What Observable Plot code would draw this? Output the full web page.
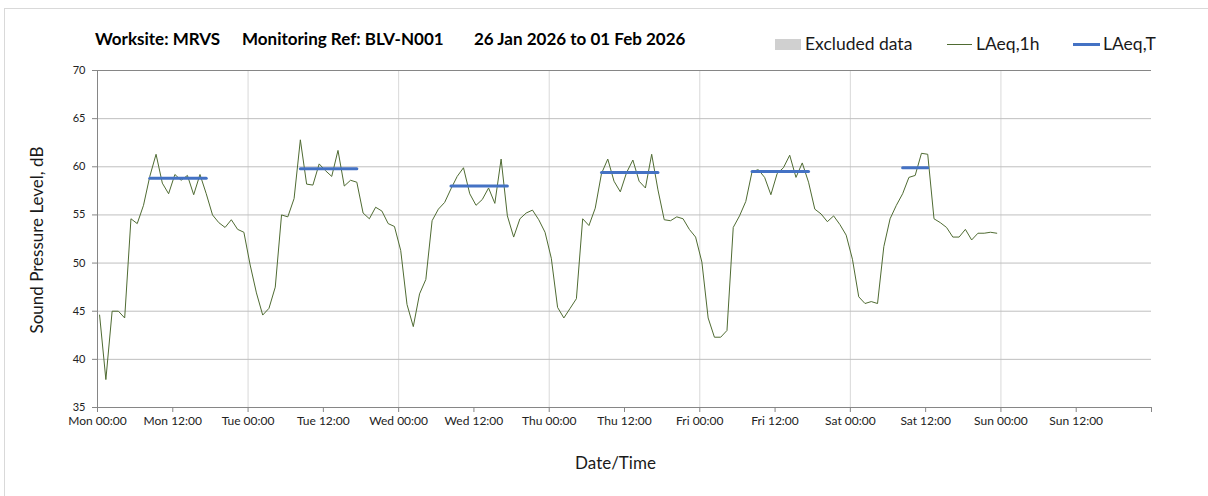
<!DOCTYPE html>
<html>
<head>
<meta charset="utf-8">
<script src="https://cdn.jsdelivr.net/npm/d3@7"></script>
<script src="https://cdn.jsdelivr.net/npm/@observablehq/plot@0.6"></script>
<style>
  html, body { margin: 0; padding: 0; background: #fff; }
  body { font-family: Lato, "Open Sans", sans-serif; }
  #wrap { position: relative; width: 1208px; height: 496px; overflow: hidden; background: #fff; }
  #border { position: absolute; left: 4px; top: 8px; width: 1300px; height: 600px; border: 1px solid #d9d9d9; }
  .title { position: absolute; top: 28px; font-weight: bold; font-size: 17px; white-space: pre; color: #000; }
  .leg { position: absolute; font-size: 17.5px; color: #1a1a1a; white-space: pre; top: 33px; }
  .sw { position: absolute; }
  #chart { position: absolute; left: 0; top: 0; }
</style>
</head>
<body>
<div id="wrap">
  <div id="border"></div>
  <div id="chart"></div>
  <div class="title" style="left:95px">Worksite: MRVS</div>
  <div class="title" style="left:242px">Monitoring Ref: BLV-N001</div>
  <div class="title" style="left:474px">26 Jan 2026 to 01 Feb 2026</div>
  <div class="sw" style="left:775px;top:39px;width:26px;height:11px;background:#d0d0d0"></div>
  <div class="leg" style="left:805px">Excluded data</div>
  <div class="sw" style="left:947px;top:44px;width:25px;height:1px;background:#4f6b32"></div>
  <div class="leg" style="left:976px">LAeq,1h</div>
  <div class="sw" style="left:1073px;top:43px;width:27px;height:3px;background:#4472c4"></div>
  <div class="leg" style="left:1103px">LAeq,T</div>
</div>
<script>
// ---- Data ----
const startTime = "2026-01-26T00:00:00Z";   // Monday
const endTime = "2026-02-02T00:00:00Z";
const sampleOffsetMinutes = 20;             // hourly samples plotted slightly after the hour

// LAeq,1h hourly values, Mon 00h .. Sat 23h
const laeq1h = [
  44.6, 37.9, 45.0, 45.0, 44.3, 54.6, 54.1, 56.0, 59.0, 61.3, 58.3, 57.2, 59.2, 58.6, 59.1, 57.1, 59.2, 57.2, 55.0, 54.2, 53.7, 54.5, 53.5, 53.2,
  49.8, 46.9, 44.6, 45.3, 47.5, 55.0, 54.8, 56.7, 62.8, 58.2, 58.1, 60.3, 59.6, 59.0, 61.7, 58.0, 58.6, 58.4, 55.2, 54.6, 55.8, 55.4, 54.1, 53.8,
  51.3, 45.7, 43.4, 46.8, 48.3, 54.4, 55.6, 56.3, 57.7, 59.0, 59.9, 57.2, 56.0, 56.6, 57.8, 56.2, 60.8, 54.9, 52.7, 54.6, 55.2, 55.5, 54.5, 53.2,
  50.5, 45.4, 44.3, 45.3, 46.3, 54.6, 53.9, 55.7, 59.3, 60.8, 58.5, 57.4, 59.4, 60.7, 58.5, 57.8, 61.3, 57.6, 54.5, 54.4, 54.8, 54.6, 53.5, 52.7,
  50.1, 44.3, 42.3, 42.3, 43.0, 53.7, 54.9, 56.4, 59.5, 59.7, 58.9, 57.1, 59.3, 59.9, 61.2, 58.9, 60.4, 58.4, 55.6, 55.1, 54.3, 54.9, 54.0, 52.9,
  50.4, 46.5, 45.8, 46.0, 45.8, 51.7, 54.6, 56.0, 57.2, 58.9, 59.1, 61.4, 61.3, 54.6, 54.2, 53.7, 52.7, 52.7, 53.5, 52.4, 53.1, 53.1, 53.2, 53.1
];

// LAeq,T per day (working period)
const laeqT = [58.8, 59.8, 58.0, 59.4, 59.5, 59.9];
const periodStartHour = [8, 8, 8, 8, 8, 8];
const periodEndHour = [17, 17, 17, 17, 17, 12];

const yTicks = [35, 40, 45, 50, 55, 60, 65, 70];
const yGrid = [40, 45, 50, 55, 60, 65];
const xTickLabels = ["Mon 00:00", "Mon 12:00", "Tue 00:00", "Tue 12:00", "Wed 00:00", "Wed 12:00", "Thu 00:00",
  "Thu 12:00", "Fri 00:00", "Fri 12:00", "Sat 00:00", "Sat 12:00", "Sun 00:00", "Sun 12:00", ""];

// ---- Build tables ----
const HOUR = 3600e3;
const t0 = new Date(startTime).getTime();
const t1 = new Date(endTime).getTime();
const sampleTime = (h) => new Date(t0 + h * HOUR + sampleOffsetMinutes * 60e3);

const hourly = laeq1h.map((v, i) => ({t: sampleTime(i), v}));
const periods = [];
laeqT.forEach((v, d) => {
  for (let h = periodStartHour[d]; h <= periodEndHour[d]; h++) {
    periods.push({t: sampleTime(d * 24 + h), v, day: d});
  }
});
const xTicks = xTickLabels.map((_, i) => new Date(t0 + i * 12 * HOUR));
const dayLines = xTicks.filter((d, i) => i % 2 === 0 && i > 0 && i < xTicks.length - 1);
const labelOf = new Map(xTicks.map((d, i) => [d.getTime(), xTickLabels[i]]));

const axisGrey = "#868686";

const chart = Plot.plot({
  width: 1208,
  height: 496,
  marginLeft: 97,
  marginRight: 57,
  marginTop: 70,
  marginBottom: 89,
  style: {fontFamily: "Lato, 'Open Sans', sans-serif", background: "transparent", color: "#222"},
  x: {type: "utc", domain: [new Date(t0), new Date(t1)]},
  y: {domain: [35, 70]},
  marks: [
    Plot.ruleX(dayLines, {stroke: "#d9d9d9", strokeWidth: 1}),
    Plot.ruleY(yGrid, {stroke: "#bfbfbf", strokeWidth: 1}),
    Plot.ruleY([70], {stroke: axisGrey, strokeWidth: 1}),
    Plot.ruleY([35], {stroke: axisGrey, strokeWidth: 1}),
    Plot.ruleX([new Date(t0)], {stroke: axisGrey, strokeWidth: 1}),
    Plot.axisY({ticks: yTicks, tickSize: 5, tickPadding: 7, stroke: axisGrey, fill: "#222", fontSize: 11, label: null}),
    Plot.axisX({ticks: xTicks, tickSize: 5, tickPadding: 4, stroke: axisGrey, fill: "#222", fontSize: 12,
      tickFormat: (d) => labelOf.get(d.getTime()) ?? "", label: null}),
    Plot.line(hourly, {x: "t", y: "v", stroke: "#4f6b32", strokeWidth: 1}),
    Plot.line(periods, {x: "t", y: "v", z: "day", stroke: "#4472c4", strokeWidth: 3}),
    Plot.text(["Date/Time"], {frameAnchor: "bottom", dy: 61, dx: -9, text: (d) => d, fontSize: 17, fill: "#1a1a1a"}),
    Plot.text(["Sound Pressure Level, dB"], {frameAnchor: "left", textAnchor: "middle", dx: -60, dy: 1, rotate: -90,
      text: (d) => d, fontSize: 17, fill: "#1a1a1a"})
  ]
});
document.getElementById("chart").appendChild(chart);
</script>
</body>
</html>
